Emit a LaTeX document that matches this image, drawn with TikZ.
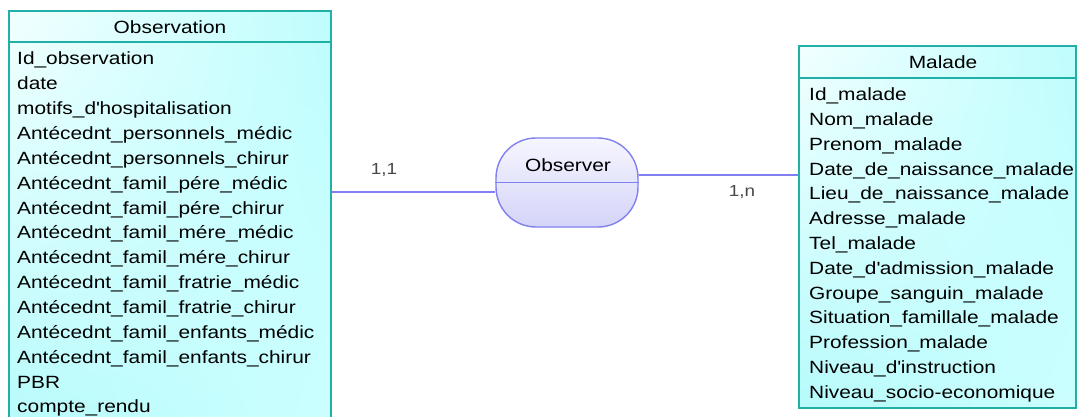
\documentclass[tikz,border=0pt]{standalone}
\usepackage{fontspec}
\setmainfont{Liberation Sans}[FakeStretch=1.18]
\usetikzlibrary{calc,shadings}
\definecolor{teal1}{HTML}{20B0A8}
\definecolor{cyanA}{HTML}{F2FFFF}
\definecolor{cyanB}{HTML}{BFFDFD}
\definecolor{cyanC}{HTML}{B6FBFB}
\definecolor{cyanD}{HTML}{CCFFFF}
\definecolor{lav}{HTML}{8080F0}
\definecolor{lavTop}{HTML}{F6F6FF}
\definecolor{lavBot}{HTML}{D4D4F8}
\definecolor{cardc}{HTML}{484848}
\newcommand{\apo}{\textquotesingle}
\tikzset{
  entbox/.style={draw=teal1, line width=1.8pt, upper left=cyanA, upper right=cyanB, lower left=cyanC, lower right=cyanD, inner sep=0pt, anchor=north west},
  hdrline/.style={draw=teal1, line width=1.5pt},
  attr/.style={anchor=base west, inner sep=0pt, font=\fontsize{17.7}{20}\selectfont, text=black},
  hdr/.style={anchor=base, inner sep=0pt, font=\fontsize{17.7}{20}\selectfont, text=black},
  relbox/.style={draw=lav, line width=1.4pt, rounded corners=40pt, top color=lavTop, bottom color=lavBot, minimum width=142pt, minimum height=89pt, inner sep=0pt},
  rel/.style={draw=lav, line width=1.2pt},
  card/.style={anchor=base, inner sep=0pt, font=\fontsize{16}{18}\selectfont, text=cardc}
}
\begin{document}
\begin{tikzpicture}[x=1pt,y=-1pt]
\useasboundingbox (0,0) rectangle (1078,417);
\fill[white] (0,0) rectangle (1078,417);
\clip (0,0) rectangle (1078,417);

% Observation entity
\node[entbox, minimum width=322pt, minimum height=420pt] (obs) at (8,10.5) {};
\coordinate (obsh) at ($(obs.north west)+(0,31.5)$);
\draw[hdrline] (obsh) -- (obsh -| obs.east);
\node[hdr] (obst) at (170,33.3) {Observation};
\foreach \t [count=\i from 0] in {Id\_observation, date, motifs\_d\apo hospitalisation,
  Antécednt\_personnels\_médic, Antécednt\_personnels\_chirur,
  Antécednt\_famil\_pére\_médic, Antécednt\_famil\_pére\_chirur,
  Antécednt\_famil\_mére\_médic, Antécednt\_famil\_mére\_chirur,
  Antécednt\_famil\_fratrie\_médic, Antécednt\_famil\_fratrie\_chirur,
  Antécednt\_famil\_enfants\_médic, Antécednt\_famil\_enfants\_chirur,
  PBR, compte\_rendu}
  \node[attr] (oa\i) at (17,65+24.85*\i) {\t};

% Malade entity
\node[entbox, minimum width=277pt, minimum height=362pt] (mal) at (798,45) {};
\coordinate (malh) at ($(mal.north west)+(0,33)$);
\draw[hdrline] (malh) -- (malh -| mal.east);
\node[hdr] (malt) at (943,69) {Malade};
\foreach \t [count=\i from 0] in {Id\_malade, Nom\_malade, Prenom\_malade,
  Date\_de\_naissance\_malade, Lieu\_de\_naissance\_malade, Adresse\_malade,
  Tel\_malade, Date\_d\apo admission\_malade, Groupe\_sanguin\_malade,
  Situation\_famillale\_malade, Profession\_malade, Niveau\_d\apo instruction,
  Niveau\_socio-economique}
  \node[attr] (ma\i) at (809,100.7+24.8*\i) {\t};

% Observer relation
\node[relbox] (obr) at (567,182.5) {};
\draw[rel] (obr.west) -- (obr.east);
\node[hdr] (obrt) at (568,171) {Observer};

% connectors
\coordinate (l1) at ([yshift=-9.5pt]obr.west);
\coordinate (r1) at ([yshift=7.5pt]obr.east);
\draw[rel] (obs.east |- l1) -- (l1);
\draw[rel] (r1) -- (r1 -| mal.west);
\node[card] (c1) at (384,174) {1,1};
\node[card] (c2) at (742,196.7) {1,n};
\end{tikzpicture}
\end{document}
